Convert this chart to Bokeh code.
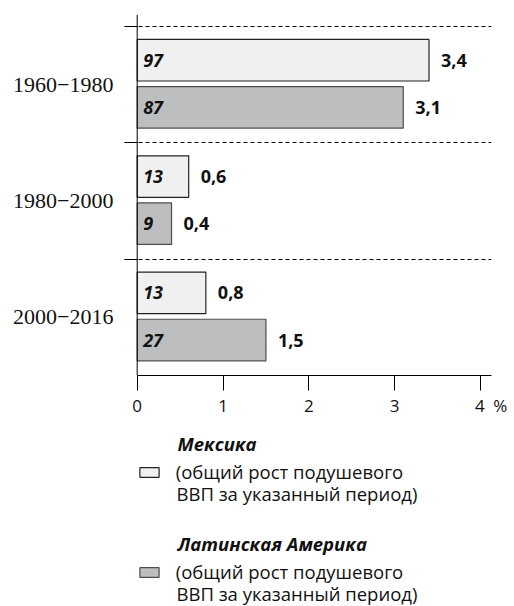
from bokeh.plotting import figure
from bokeh.layouts import column
from bokeh.models import FixedTicker, Span, Legend, LegendItem, Range1d, Label
from bokeh.core.properties import value
from bokeh.embed import file_html
from bokeh.resources import INLINE

# ---- data ----
periods = ["1960−1980", "1980−2000", "2000−2016"]
mexico_rate = [3.4, 0.6, 0.8]          # average annual growth, %
latam_rate = [3.1, 0.4, 1.5]
mexico_total = [97, 13, 13]            # total growth over the period, %
latam_total = [87, 9, 27]
x_ticks = [0, 1, 2, 3, 4]
x_unit = "%"
series_names = ["Мексика", "Латинская Америка"]
legend_line1 = "(общий рост подушевого"
legend_line2 = "ВВП за указанный период)"
mex_fill, lat_fill = "#f0f0f0", "#bdbebf"
mex_line, lat_line = "#222222", "#4d4d4d"

SANS = value("Open Sans")
n = len(periods)
base = [n - 1 - i for i in range(n)]
mex_y = [b + 0.71 for b in base]
lat_y = [b + 0.305 for b in base]
bar_h = 0.357


def fmt(v):
    return f"{v:.1f}".replace(".", ",")


p = figure(width=514, height=425,
           x_range=Range1d(-0.148, 4.128), y_range=Range1d(0, 3.103),
           output_backend="svg", toolbar_location=None,
           min_border_left=124, min_border_right=23,
           min_border_top=14, min_border_bottom=50,
           outline_line_color=None, background_fill_color="white",
           border_fill_color="white")

# x axis
xa = p.xaxis[0]
xa.ticker = FixedTicker(ticks=x_ticks)
xa.bounds = (0, 4.128)
xa.major_tick_out = 15
xa.major_tick_in = 0
xa.minor_tick_out = 0
xa.minor_tick_in = 0
xa.axis_line_color = "black"
xa.major_tick_line_color = "black"
xa.major_label_text_font = "Open Sans"
xa.major_label_text_font_size = "17px"
xa.major_label_text_color = "#111111"
xa.major_label_standoff = 3
last = x_ticks[-1]
xa.major_label_overrides = {last: "\u2002\u2002\u00a0" + str(last) + "\u2002" + x_unit}

# y axis: category labels at group centres, small ticks at group boundaries
ya = p.yaxis[0]
centers = [b + 0.5 for b in base]
bounds_y = list(range(1, n + 1))
ya.ticker = FixedTicker(ticks=centers, minor_ticks=bounds_y)
ya.major_label_overrides = {c: lab for c, lab in zip(centers, periods)}
ya.axis_line_color = None
ya.major_tick_in = 0
ya.major_tick_out = 0
ya.minor_tick_in = 13
ya.minor_tick_out = 0
ya.minor_tick_line_color = "black"
ya.major_label_standoff = 11
ya.major_label_text_font = "Liberation Serif"
ya.major_label_text_font_size = "22px"
ya.major_label_text_color = "#111111"

p.xgrid.visible = False
p.ygrid[0].ticker = FixedTicker(ticks=bounds_y)
p.ygrid[0].grid_line_color = "black"
p.ygrid[0].grid_line_dash = "4 3"
p.ygrid[0].grid_line_width = 1

p.add_layout(Span(location=0, dimension="height", line_color="black", line_width=1))

p.hbar(y=mex_y, left=0, right=mexico_rate, height=bar_h,
       fill_color=mex_fill, line_color=mex_line, line_width=1.2)
p.hbar(y=lat_y, left=0, right=latam_rate, height=bar_h,
       fill_color=lat_fill, line_color=lat_line, line_width=1.2)

for ys, totals, rates in [(mex_y, mexico_total, mexico_rate), (lat_y, latam_total, latam_rate)]:
    p.text(x=[0] * n, y=ys, text=[str(t) for t in totals], x_offset=6,
           text_baseline="middle", text_align="left", text_font=SANS,
           text_font_style="bold italic", text_font_size="18px", text_color="#111111")
    p.text(x=rates, y=ys, text=[fmt(r) for r in rates], x_offset=12,
           text_baseline="middle", text_align="left", text_font=SANS,
           text_font_style="bold", text_font_size="18px", text_color="#111111")

# ---- legend panel (frame aligned with the chart's frame: x 124..491) ----
q = figure(width=514, height=181, x_range=Range1d(0, 1), y_range=Range1d(0, 1),
           output_backend="svg", toolbar_location=None,
           x_axis_location=None, y_axis_location=None,
           min_border_left=124, min_border_right=23, min_border_top=0, min_border_bottom=0,
           outline_line_color=None,
           background_fill_color="white", border_fill_color="white")
q.xgrid.visible = False
q.ygrid.visible = False

nan = float("nan")
sw_m = q.hbar(y=[nan], left=[nan], right=[nan], height=1,
              fill_color=mex_fill, line_color=mex_line, line_width=1.2)
sw_l = q.hbar(y=[nan], left=[nan], right=[nan], height=1,
              fill_color=lat_fill, line_color=lat_line, line_width=1.2)

LEG_FS = "18.5px"
for i, (rend, name) in enumerate([(sw_m, series_names[0]), (sw_l, series_names[1])]):
    dy = i * 100
    q.add_layout(Label(x=53, y=163 - dy, x_units="screen", y_units="screen", text=name,
                       text_align="left", text_baseline="alphabetic", text_font="Open Sans",
                       text_font_style="bold italic", text_font_size=LEG_FS, text_color="#111111"))
    leg = Legend(items=[LegendItem(label=legend_line1, renderers=[rend])],
                 location=(12.7, 122 - dy), padding=0, margin=0,
                 border_line_color=None, background_fill_alpha=0,
                 glyph_width=24, glyph_height=12, label_standoff=15,
                 label_text_font="Open Sans", label_text_font_size=LEG_FS,
                 label_text_line_height=1.2, label_text_color="#111111")
    q.add_layout(leg, "center")
    q.add_layout(Label(x=52, y=113 - dy, x_units="screen", y_units="screen", text=legend_line2,
                       text_align="left", text_baseline="alphabetic", text_font="Open Sans",
                       text_font_size=LEG_FS, text_color="#111111"))

open("out.html", "w").write(file_html(column(p, q, spacing=0), INLINE))
